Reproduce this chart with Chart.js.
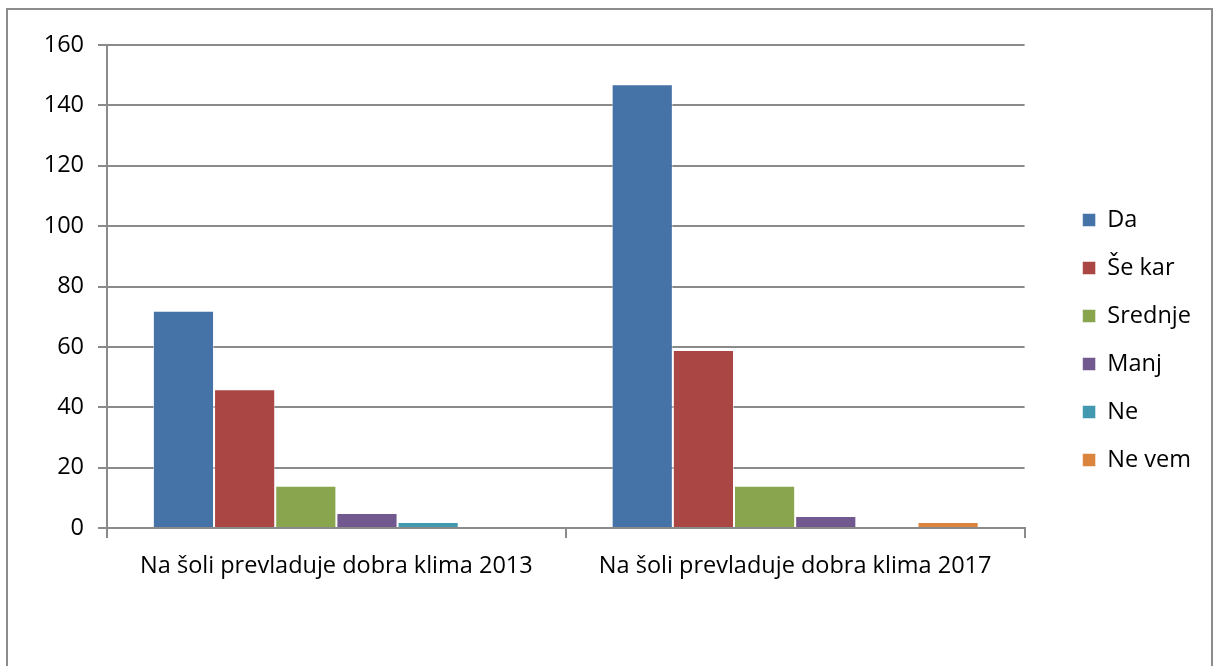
<!DOCTYPE html>
<html>
<head>
<meta charset="utf-8">
<script src="https://cdn.jsdelivr.net/npm/chart.js@4.4.1/dist/chart.umd.min.js"></script>
<style>
  html, body { margin: 0; padding: 0; background: #fff; overflow: hidden; }
  #frame { position: absolute; left: 6px; top: 8px; width: 1203px; height: 700px; border: 2px solid #8c8c8c; }
  #wrap { position: absolute; left: 0; top: 0; width: 1213px; height: 666px; }
</style>
</head>
<body>
<div id="frame"></div>
<div id="wrap"><canvas id="c"></canvas></div>
<script>
const categories = ["Na šoli prevladuje dobra klima 2013", "Na šoli prevladuje dobra klima 2017"];
const seriesNames = ["Da", "Še kar", "Srednje", "Manj", "Ne", "Ne vem"];
const da = [72, 147];
const seKar = [46, 59];
const srednje = [14, 14];
const manj = [5, 4];
const ne = [2, 0];
const neVem = [0, 2];
const yTicks = [0, 20, 40, 60, 80, 100, 120, 140, 160];

const colors = ["#4572A7", "#AA4643", "#89A54E", "#71588F", "#4198AF", "#DB843D"];
const values = [da, seKar, srednje, manj, ne, neVem];

const gridGray = "#8a8a8a";
const font = { family: "'Open Sans', 'Noto Sans', sans-serif", size: 23.5 };

Chart.defaults.color = "#000";
Chart.defaults.font = font;

const ctx = document.getElementById("c").getContext("2d");
new Chart(ctx, {
  type: "bar",
  data: {
    labels: categories,
    datasets: seriesNames.map((name, i) => ({
      label: name,
      data: values[i],
      backgroundColor: colors[i],
      borderColor: "rgba(255,255,255,0.5)",
      borderWidth: 1,
      categoryPercentage: 0.8,
      barPercentage: 1.0,
    })),
  },
  options: {
    responsive: true,
    maintainAspectRatio: false,
    animation: false,
    layout: { padding: { top: 45, bottom: 31, left: 0, right: 12 } },
    plugins: {
      legend: {
        position: "right",
        labels: { boxWidth: 13, boxHeight: 13, padding: 24.5, font: font, color: "#000" },
      },
      tooltip: { enabled: false },
    },
    scales: {
      x: {
        grid: { display: true, drawOnChartArea: false, color: gridGray, lineWidth: 2, tickLength: 10 },
        border: { color: gridGray, width: 2 },
        ticks: { padding: 14, font: font, color: "#000", maxRotation: 0 },
        afterFit(scale) { scale.height = 666 - 31 - 528; },
      },
      y: {
        min: 0,
        max: 160,
        afterBuildTicks(scale) { scale.ticks = yTicks.map(v => ({ value: v })); },
        grid: { color: gridGray, lineWidth: 2, tickLength: 9 },
        border: { color: gridGray, width: 2 },
        ticks: { padding: 14, font: font, color: "#000" },
        afterFit(scale) { scale.width = 107; },
      },
      gap: {
        position: "right",
        display: true,
        grid: { display: false },
        border: { display: false },
        ticks: { display: false },
        afterFit(scale) { scale.width = 33.5; },
      },
    },
  },
});
</script>
</body>
</html>
